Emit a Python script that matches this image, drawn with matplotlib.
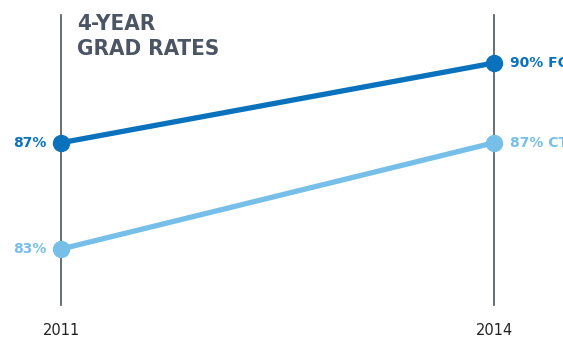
import matplotlib
matplotlib.use("Agg")
import matplotlib.pyplot as plt

# data
years = [2011, 2014]
fc_rates = [87, 90]
ct_rates = [83, 87]
fc_labels = ["87%", "90% FC"]
ct_labels = ["83%", "87% CT"]

dark_blue = "#0a72bd"
light_blue = "#76bfe9"
gray = "#4b5563"

fig = plt.figure(figsize=(5.63, 3.41), dpi=100)
ax = fig.add_axes([0, 0, 1, 1])
ax.set_xlim(2010.577, 2014.478)
ax.set_ylim(79.54, 92.37)
ax.axis("off")

# vertical year guides
for yr in years:
    ax.plot([yr, yr], [80.9, 91.8], color=gray, lw=1.2, zorder=1)
    ax.text(yr, 79.95, str(yr), ha="center", va="center", fontsize=10.5,
            color="#222222")

ax.plot(years, fc_rates, color=dark_blue, lw=3.8, marker="o", ms=11.5, zorder=3)
ax.plot(years, ct_rates, color=light_blue, lw=3.8, marker="o", ms=11.5, zorder=3)

# point labels (the right-hand ones run off the edge, as in the original)
ax.text(years[0] - 0.1, fc_rates[0], fc_labels[0], ha="right", va="center",
        fontsize=10, fontweight="bold", color=dark_blue)
ax.text(years[0] - 0.1, ct_rates[0], ct_labels[0], ha="right", va="center",
        fontsize=10, fontweight="bold", color=light_blue)
ax.text(years[1] + 0.11, fc_rates[1], fc_labels[1], ha="left", va="center",
        fontsize=10, fontweight="bold", color=dark_blue)
ax.text(years[1] + 0.11, ct_rates[1], ct_labels[1], ha="left", va="center",
        fontsize=10, fontweight="bold", color=light_blue)

ax.text(2011.11, 91.85, "4-YEAR\nGRAD RATES", ha="left", va="top",
        fontsize=16, fontweight="bold", color=gray, linespacing=1.32,
        fontstretch="condensed")

fig.savefig("out.png", dpi=100)
